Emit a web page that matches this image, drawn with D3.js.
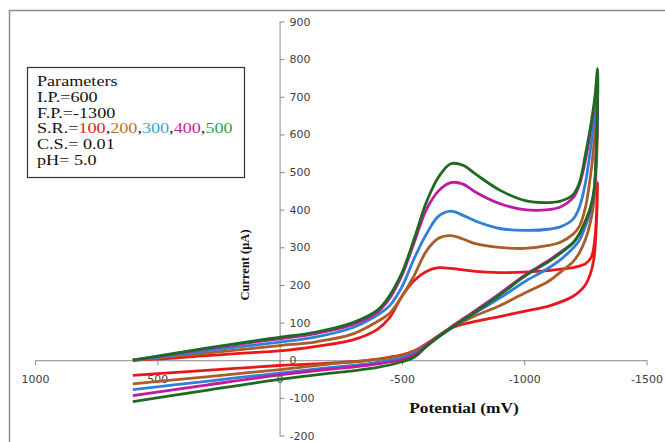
<!DOCTYPE html>
<html lang="en">
<head>
<meta charset="UTF-8">
<title>Cyclic voltammograms at different scan rates</title>
<style>
  body { margin: 0; background: #fff; }
  .tick text { font: 11px "DejaVu Sans", Verdana, sans-serif; fill: #404040; }
  .axis path, .axis line { stroke: #8a8a8a; }
  .axis-title { font-family: "Liberation Serif", "Times New Roman", serif; font-weight: bold; fill: #111; }
  .legend text { font: 15.5px "Liberation Serif", "Times New Roman", serif; fill: #111; }
</style>
</head>
<body>
<div id="chart"></div>
<script src="https://cdn.jsdelivr.net/npm/d3@7"></script>
<script>
// potentials (mV) of the forward scan (600 -> -1300) and of the return scan
const potFwd = [600, 450, 300, 150, 0, -150, -300, -400, -450, -500, -550, -600, -650, -700, -750, -800, -900, -1000, -1100, -1150, -1200, -1225, -1250, -1275, -1290, -1300];
const potRev = [-1295, -1285, -1270, -1250, -1225, -1200, -1150, -1100, -1000, -900, -800, -700, -650, -600, -550, -500, -400, -300, -200, 0, 300, 600];

// currents (uA)
const redFwd     = [0, 5, 12, 19, 25, 37, 54, 82, 113, 170, 212, 236, 246, 244, 240, 236, 233, 234, 238, 242, 246, 250, 256, 275, 330, 472];
const redRev     = [360, 270, 228, 200, 182, 170, 155, 144, 130, 116, 103, 85, 65, 42, 25, 14, 3, -4, -8, -14, -27, -40];
const brownFwd   = [0, 9, 19, 29, 39, 49, 70, 103, 125, 170, 225, 290, 324, 331, 322, 310, 300, 297, 305, 314, 335, 355, 405, 510, 610, 690];
const brownRev   = [520, 420, 365, 320, 285, 262, 235, 210, 178, 145, 118, 85, 65, 44, 24, 12, 2, -4, -10, -25, -44, -63];
const blueFwd    = [0, 12, 25, 37, 48, 62, 87, 120, 145, 195, 270, 335, 383, 396, 385, 370, 350, 345, 348, 355, 375, 405, 470, 580, 660, 730];
const blueRev    = [560, 440, 395, 355, 318, 298, 268, 245, 208, 165, 126, 85, 62, 40, 18, 6, -6, -14, -20, -34, -56, -78];
const magentaFwd = [0, 15, 30, 44, 57, 71, 95, 128, 165, 225, 312, 400, 450, 472, 468, 447, 416, 400, 400, 408, 432, 465, 530, 625, 690, 765];
const magentaRev = [560, 445, 400, 368, 335, 312, 288, 265, 225, 177, 132, 88, 64, 40, 14, 2, -10, -18, -24, -39, -66, -94];
const greenFwd   = [0, 16, 32, 47, 61, 75, 100, 133, 172, 232, 322, 420, 487, 522, 518, 495, 452, 425, 419, 423, 440, 470, 545, 635, 705, 775];
const greenRev   = [560, 450, 405, 370, 335, 312, 285, 262, 222, 173, 128, 85, 62, 36, 8, -4, -19, -28, -35, -51, -80, -110];

const scanRates = ["100", "200", "300", "400", "500"];
const lineColors = ["#e8171c", "#a95d27", "#2f80d6", "#c01aa2", "#1d6b1f"];
const legendColors = ["#e3201f", "#b86e2a", "#36a6d8", "#c0279b", "#27a058"];

const xTicks = [1000, 500, 0, -500, -1000, -1500];
const yTicks = [-200, -100, 0, 100, 200, 300, 400, 500, 600, 700, 800, 900];

const series = [
  { fwd: redFwd, rev: redRev },
  { fwd: brownFwd, rev: brownRev },
  { fwd: blueFwd, rev: blueRev },
  { fwd: magentaFwd, rev: magentaRev },
  { fwd: greenFwd, rev: greenRev }
].map((s, i) => ({
  rate: scanRates[i],
  color: lineColors[i],
  points: potFwd.map((p, j) => [p, s.fwd[j]]).concat(potRev.map((p, j) => [p, s.rev[j]]))
}));

const W = 665, H = 442;

const svg = d3.select("#chart")
  .append("svg")
  .attr("width", W)
  .attr("height", H);

svg.append("rect").attr("width", W).attr("height", H).attr("fill", "#fff");

// chart area border (runs off the right and bottom edges)
svg.append("path")
  .attr("d", `M9.5,${H + 5}V10.5H${W + 5}`)
  .attr("fill", "none")
  .attr("stroke", "#8e8e8e")
  .attr("stroke-width", 1.5);

const x = d3.scaleLinear().domain([1000, -1500]).range([35, 646.5]);
const y = d3.scaleLinear().domain([-200, 900]).range([435.5, 21.5]);

const fmt = d => String(d);

svg.append("g")
  .attr("class", "axis")
  .attr("transform", `translate(0,${y(0)})`)
  .call(d3.axisBottom(x).tickValues(xTicks).tickFormat(fmt).tickSizeInner(5).tickSizeOuter(0).tickPadding(10));

svg.append("g")
  .attr("class", "axis")
  .attr("transform", `translate(${x(0)},0)`)
  .call(d3.axisRight(y).tickValues(yTicks).tickFormat(fmt).tickSizeInner(5).tickSizeOuter(0).tickPadding(5));

const line = d3.line()
  .x(d => x(d[0]))
  .y(d => y(d[1]))
  .curve(d3.curveCatmullRom.alpha(0.5));

svg.selectAll("path.cv")
  .data(series)
  .enter()
  .append("path")
  .attr("class", "cv")
  .attr("fill", "none")
  .attr("stroke", d => d.color)
  .attr("stroke-width", 2.8)
  .attr("stroke-linejoin", "round")
  .attr("d", d => line(d.points));

// axis titles
svg.append("text")
  .attr("class", "axis-title")
  .attr("font-size", 12.5)
  .attr("text-anchor", "middle")
  .attr("transform", "translate(249,265) rotate(-90)")
  .text("Current (μA)");

svg.append("text")
  .attr("class", "axis-title")
  .attr("font-size", 14.5)
  .attr("text-anchor", "middle")
  .attr("transform", "translate(464,413) scale(1.2,1)")
  .text("Potential (mV)");

// parameters box
const legend = svg.append("g").attr("class", "legend");
legend.append("rect")
  .attr("x", 27.5).attr("y", 67.5)
  .attr("width", 217).attr("height", 110)
  .attr("fill", "#fff")
  .attr("stroke", "#333")
  .attr("stroke-width", 1.2);

const legendText = legend.append("g")
  .attr("transform", "translate(37,0) scale(1.17,1)");

const legendLines = ["Parameters", "I.P.=600", "F.P.=-1300", "S.R.=", "C.S.= 0.01", "pH= 5.0"];
legendLines.forEach((t, i) => {
  const txt = legendText.append("text").attr("x", 0).attr("y", 86 + i * 15.8);
  txt.append("tspan").text(t);
  if (t === "S.R.=") {
    scanRates.forEach((r, k) => {
      txt.append("tspan").attr("fill", legendColors[k]).text(r);
      if (k < scanRates.length - 1) txt.append("tspan").text(",");
    });
  }
});
</script>
</body>
</html>
